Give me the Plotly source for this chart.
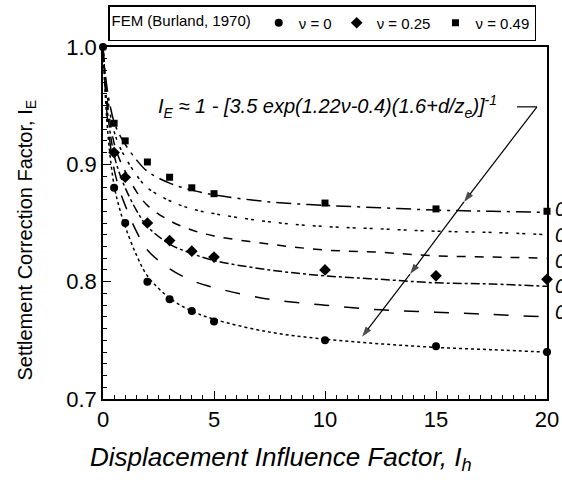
import plotly.graph_objects as go

# ---------------- data ----------------
ih = [0, 0.1, 0.25, 0.5, 0.75, 1, 1.5, 2, 3, 4, 5, 7.5, 10, 12.5, 15, 17.5, 20]

curve_nu = ["0.49", "0.4", "0.3", "0.2", "0.1", "0"]
curve_ie = {
    "0.49": [1.0, 0.978, 0.957, 0.936, 0.925, 0.917, 0.904, 0.894, 0.884, 0.878, 0.874, 0.868, 0.865, 0.863, 0.861, 0.860, 0.859],
    "0.4":  [1.0, 0.975, 0.951, 0.928, 0.915, 0.906, 0.891, 0.880, 0.869, 0.862, 0.858, 0.851, 0.847, 0.845, 0.843, 0.842, 0.840],
    "0.3":  [1.0, 0.972, 0.945, 0.918, 0.904, 0.894, 0.877, 0.865, 0.852, 0.844, 0.839, 0.832, 0.827, 0.825, 0.822, 0.821, 0.820],
    "0.2":  [1.0, 0.969, 0.937, 0.908, 0.892, 0.880, 0.861, 0.847, 0.832, 0.824, 0.818, 0.810, 0.805, 0.802, 0.799, 0.798, 0.796],
    "0.1":  [1.0, 0.965, 0.929, 0.896, 0.878, 0.865, 0.843, 0.827, 0.811, 0.801, 0.795, 0.785, 0.780, 0.776, 0.774, 0.772, 0.770],
    "0":    [1.0, 0.960, 0.920, 0.882, 0.862, 0.847, 0.823, 0.805, 0.786, 0.775, 0.768, 0.757, 0.751, 0.747, 0.744, 0.742, 0.740],
}
curve_dash = {"0.49": "longdashdot", "0.4": "3px,3px,3px,8px", "0.3": "dash",
              "0.2": "dashdot", "0.1": "longdash", "0": "dot"}

fem_x_0 = [0, 0.5, 1, 2, 3, 4, 5, 10, 15, 20]
fem_y_0 = [1.0, 0.880, 0.850, 0.800, 0.785, 0.775, 0.766, 0.750, 0.745, 0.740]
fem_x_25 = [0.5, 1, 2, 3, 4, 5, 10, 15, 20]
fem_y_25 = [0.910, 0.889, 0.850, 0.835, 0.826, 0.821, 0.810, 0.805, 0.802]
fem_x_49 = [0.5, 1, 2, 3, 4, 5, 10, 15, 20]
fem_y_49 = [0.935, 0.920, 0.902, 0.889, 0.880, 0.875, 0.867, 0.862, 0.860]

right_labels = ["0.49", "0.4", "0.3", "0.2", "0.1"]
right_label_y = [0.862, 0.840, 0.818, 0.796, 0.774]

# arrow: tail end then the three arrow-head positions along the same line
arrow_x = [19.55, 16.26, 13.83, 11.67]
arrow_y = [0.949, 0.868, 0.8065, 0.753]
tail_x = [18.65, 19.55]
tail_y = [0.949, 0.949]

FONT = "Liberation Sans, Arial, sans-serif"

fig = go.Figure()

for nu in curve_nu:
    fig.add_trace(go.Scatter(
        x=ih, y=curve_ie[nu], mode="lines", line_shape="spline",
        line=dict(color="black", width=1.5, dash=curve_dash[nu]),
        showlegend=False, hoverinfo="skip"))

# formula arrow
fig.add_trace(go.Scatter(x=tail_x, y=tail_y, mode="lines", line=dict(color="black", width=1.2),
                         showlegend=False, hoverinfo="skip"))
fig.add_trace(go.Scatter(x=arrow_x, y=arrow_y, mode="lines+markers",
                         line=dict(color="black", width=1.2),
                         marker=dict(symbol="arrow", angleref="previous", size=[0, 11, 11, 11],
                                     color="black", line=dict(width=0)),
                         showlegend=False, hoverinfo="skip"))

fig.add_trace(go.Scatter(x=fem_x_0, y=fem_y_0, mode="markers", name="ν = 0",
                         marker=dict(symbol="circle", size=8, color="black"), cliponaxis=False))
fig.add_trace(go.Scatter(x=fem_x_25, y=fem_y_25, mode="markers", name="ν = 0.25",
                         marker=dict(symbol="diamond", size=9, color="black"), cliponaxis=False))
fig.add_trace(go.Scatter(x=fem_x_49, y=fem_y_49, mode="markers", name="ν = 0.49",
                         marker=dict(symbol="square", size=7, color="black"), cliponaxis=False))

ann = []
ann.append(dict(x=2.4, y=0.949, xref="x", yref="y", xanchor="left", yanchor="middle", showarrow=False,
                text="<i>I<sub>E</sub> ≈ 1 - [3.5 exp(1.22ν-0.4)(1.6+d/z<sub>e</sub>)]<sup>-1</sup></i>",
                font=dict(size=20, family=FONT, color="black")))
for lab, ly in zip(right_labels, right_label_y):
    ann.append(dict(x=1.013, y=ly, xref="paper", yref="y", xanchor="left", yanchor="middle",
                    showarrow=False, text="<i>" + lab + "</i>",
                    font=dict(size=20, family=FONT, color="black")))
ann.append(dict(x=-0.172, y=0.452, xref="paper", yref="paper", xanchor="center", yanchor="middle",
                textangle=-90, showarrow=False, text="Settlement Correction Factor, I<sub>E</sub>",
                font=dict(size=20, family=FONT, color="black")))
ann.append(dict(x=0.401, y=-0.168, xref="paper", yref="paper", xanchor="center", yanchor="middle",
                showarrow=False, text="<i>Displacement Influence Factor, I<sub>h</sub></i>",
                font=dict(size=26, family=FONT, color="black")))

fig.update_layout(
    width=562, height=480,
    margin=dict(l=103, r=15, t=47, b=81, autoexpand=False),
    paper_bgcolor="white", plot_bgcolor="white",
    font=dict(family=FONT, color="black"),
    annotations=ann,
    legend=dict(orientation="h", xref="container", yref="container",
                x=108 / 562, y=1 - 5 / 480, xanchor="left", yanchor="top",
                bordercolor="black", borderwidth=1.5, bgcolor="white",
                font=dict(size=15, family=FONT),
                title=dict(text="FEM (Burland, 1970)", side="left",
                           font=dict(size=15, family=FONT))),
    xaxis=dict(range=[0, 20], dtick=5, ticks="inside", ticklen=8, tickwidth=1.2,
               tickcolor="black", showgrid=False, zeroline=False, showline=True,
               linecolor="black", linewidth=1.5, mirror=True,
               tickfont=dict(size=22, family=FONT),
               minor=dict(dtick=0.5, ticks="inside", ticklen=4, tickcolor="black", showgrid=False)),
    yaxis=dict(range=[0.7, 1.0], dtick=0.1, tickformat=".1f", ticks="inside", ticklen=8,
               tickwidth=1.2, tickcolor="black", showgrid=False, zeroline=False, showline=True,
               linecolor="black", linewidth=1.5, mirror=True,
               tickfont=dict(size=22, family=FONT),
               minor=dict(dtick=0.01, ticks="inside", ticklen=4, tickcolor="black", showgrid=False)),
)

fig.write_html("out.html")
